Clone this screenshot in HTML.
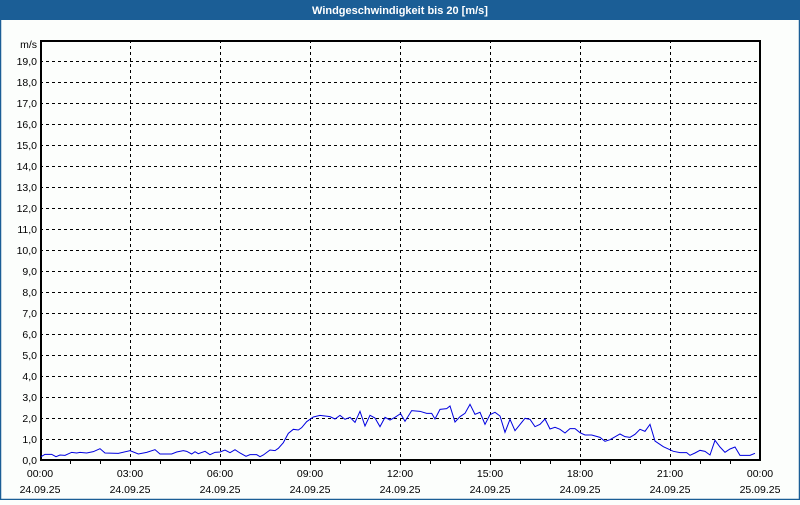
<!DOCTYPE html>
<html><head><meta charset="utf-8"><style>
body{margin:0;width:800px;height:500px;overflow:hidden;background:#fcfefc}
</style></head><body>
<svg width="800" height="500" xmlns="http://www.w3.org/2000/svg" font-family="Liberation Sans, sans-serif" font-size="10.5">
<rect x="0" y="0" width="800" height="500" fill="#fcfefc"/>
<rect x="0.5" y="0.5" width="799" height="499" fill="none" stroke="#1b5e96" stroke-width="1.5"/>
<rect x="0" y="0" width="800" height="20" fill="#1b5e96"/>
<text x="400" y="14" fill="#fff" font-weight="bold" font-size="11" text-anchor="middle">Windgeschwindigkeit bis 20 [m/s]</text>
<g stroke="#000" stroke-dasharray="3,3" stroke-width="1">
<path d="M40,61.5H760M40,82.5H760M40,103.5H760M40,124.5H760M40,145.5H760M40,166.5H760M40,187.5H760M40,208.5H760M40,229.5H760M40,250.5H760M40,271.5H760M40,292.5H760M40,313.5H760M40,334.5H760M40,355.5H760M40,376.5H760M40,397.5H760M40,418.5H760M40,439.5H760"/>
<path d="M130.5,40V460M220.5,40V460M310.5,40V460M400.5,40V460M490.5,40V460M580.5,40V460M670.5,40V460"/>
</g>
<rect x="41" y="41" width="719" height="419" fill="none" stroke="#000" stroke-width="2"/>
<g stroke="#000"><path d="M70.5,460V464M100.5,460V464M130.5,460V465M160.5,460V464M190.5,460V464M220.5,460V465M250.5,460V464M280.5,460V464M310.5,460V465M340.5,460V464M370.5,460V464M400.5,460V465M430.5,460V464M460.5,460V464M490.5,460V465M520.5,460V464M550.5,460V464M580.5,460V465M610.5,460V464M640.5,460V464M670.5,460V465M700.5,460V464M730.5,460V464"/></g>
<g fill="#000" text-anchor="end">
<text x="37" y="48">m/s</text>
<text x="37" y="65">19,0</text><text x="37" y="86">18,0</text><text x="37" y="107">17,0</text><text x="37" y="128">16,0</text><text x="37" y="149">15,0</text><text x="37" y="170">14,0</text><text x="37" y="191">13,0</text><text x="37" y="212">12,0</text><text x="37" y="233">11,0</text><text x="37" y="254">10,0</text><text x="37" y="275">9,0</text><text x="37" y="296">8,0</text><text x="37" y="317">7,0</text><text x="37" y="338">6,0</text><text x="37" y="359">5,0</text><text x="37" y="380">4,0</text><text x="37" y="401">3,0</text><text x="37" y="422">2,0</text><text x="37" y="443">1,0</text><text x="37" y="464">0,0</text>
</g>
<g fill="#000" text-anchor="middle">
<text x="40" y="477">00:00</text><text x="40" y="493">24.09.25</text>
<text x="130" y="477">03:00</text><text x="130" y="493">24.09.25</text>
<text x="220" y="477">06:00</text><text x="220" y="493">24.09.25</text>
<text x="310" y="477">09:00</text><text x="310" y="493">24.09.25</text>
<text x="400" y="477">12:00</text><text x="400" y="493">24.09.25</text>
<text x="490" y="477">15:00</text><text x="490" y="493">24.09.25</text>
<text x="580" y="477">18:00</text><text x="580" y="493">24.09.25</text>
<text x="670" y="477">21:00</text><text x="670" y="493">24.09.25</text>
<text x="760" y="477">00:00</text><text x="760" y="493">25.09.25</text>
</g>
<g fill="none" stroke="#0000e0" stroke-width="1">
<polyline transform="translate(30,380) scale(0.33333)" vector-effect="non-scaling-stroke" points="33,230 45,223 65,223 78,230 90,225 105,226 125,217 140,219 150,217 170,219 190,215 210,206 225,219 265,220 300,212 325,222 350,217 375,209 390,222 425,222 440,216 460,212 470,214 485,222 495,215 505,221 525,214 540,224 555,217 570,216 585,210 600,218 615,209 630,219 648,229 660,224 680,224 690,230 700,225 720,210 735,212 745,205 760,188 775,160 790,148 805,150 815,143 830,125 850,111 870,106 885,108 900,110 915,117 930,106 945,118 960,112 975,127 990,94 1005,138 1020,106 1035,114 1050,140 1065,112 1080,120 1095,112 1110,102"/>
<polyline transform="translate(400,380) scale(0.33333)" vector-effect="non-scaling-stroke" points="0,98 15,124 35,92 60,94 80,100 95,100 105,117 120,88 140,86 150,78 165,126 180,110 195,100 210,73 225,103 240,97 255,133 270,104 285,97 300,108 315,157 330,118 345,152 375,115 390,118 405,140 420,133 435,117 450,147 465,142 480,148 495,159 510,146 525,146 540,158 555,165 575,165 600,172 615,184 630,179 660,162 675,170 690,172 705,163 720,148 735,154 750,133 765,183 790,200 820,214 840,218 860,218 870,226 885,219 900,211 915,214 930,225 945,181 960,201 975,217 990,207 1005,201 1020,226 1050,226 1065,220"/>
</g>
</svg>
</body></html>
